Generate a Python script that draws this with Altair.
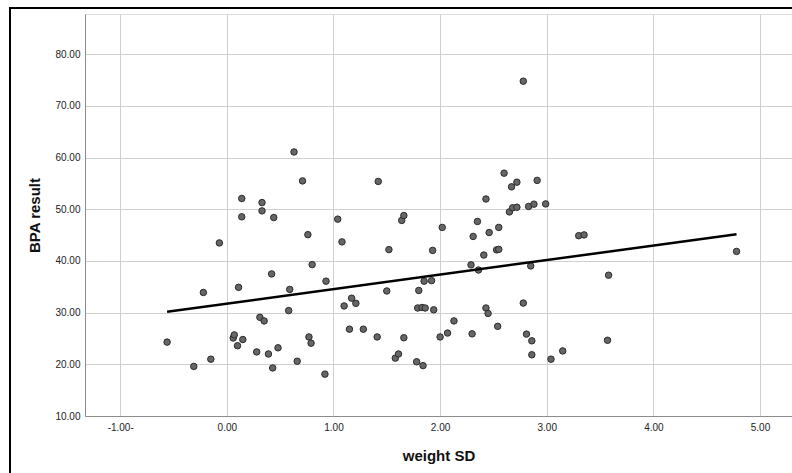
import altair as alt
import pandas as pd

weight_sd = [-0.56, -0.31, -0.22, -0.15, -0.07, 0.06, 0.07, 0.10, 0.11, 0.15,
             0.28, 0.31, 0.35, 0.39, 0.42, 0.43, 0.48, 0.58, 0.59, 0.66,
             0.76, 0.77, 0.79, 0.80, 0.92, 0.93, 1.08, 1.10, 1.15, 1.17,
             1.21, 1.28, 1.41, 1.50, 1.52, 1.58, 1.61, 0.14, 0.14, 0.33,
             0.33, 0.44, 0.63, 0.71, 1.04, 1.42, 1.64, 1.66, 2.78, 2.60,
             2.67, 2.72, 2.91, 2.43, 2.65, 2.68, 2.72, 2.83, 2.88, 2.99,
             2.02, 2.35, 2.31, 2.46, 2.55, 3.30, 3.35, 4.78, 1.93, 2.41,
             2.53, 2.55, 2.29, 2.36, 2.85, 1.85, 1.92, 1.80, 3.58, 1.79,
             1.83, 1.86, 1.94, 2.78, 2.43, 2.45, 2.13, 2.54, 1.66, 2.00,
             2.07, 2.30, 2.81, 2.86, 3.57, 1.78, 1.84, 2.86, 3.04, 3.15]
bpa_result = [24.3, 19.6, 33.9, 21.0, 43.5, 25.1, 25.7, 23.6, 34.9, 24.8,
              22.4, 29.1, 28.4, 22.0, 37.5, 19.3, 23.2, 30.4, 34.5, 20.6,
              45.1, 25.3, 24.1, 39.3, 18.1, 36.1, 43.7, 31.3, 26.8, 32.8,
              31.8, 26.8, 25.3, 34.2, 42.2, 21.2, 22.0, 52.1, 48.55, 51.3,
              49.7, 48.4, 61.1, 55.5, 48.1, 55.4, 47.85, 48.8, 74.8, 57.0,
              54.35, 55.25, 55.6, 52.0, 49.5, 50.3, 50.4, 50.55, 51.0, 51.05,
              46.5, 47.65, 44.75, 45.5, 46.5, 44.9, 45.05, 41.85, 42.05, 41.15,
              42.15, 42.25, 39.25, 38.25, 39.05, 36.1, 36.2, 34.3, 37.25, 30.9,
              31.0, 30.9, 30.55, 31.85, 30.9, 29.85, 28.4, 27.35, 25.15, 25.3,
              26.05, 25.9, 25.85, 24.55, 24.65, 20.5, 19.75, 21.85, 21.0, 22.6]

x_ticks = [-1, 0, 1, 2, 3, 4, 5]
x_tick_labels = ["-1.00-", "0.00", "1.00", "2.00", "3.00", "4.00", "5.00"]
y_ticks = [10, 20, 30, 40, 50, 60, 70, 80]

df = pd.DataFrame({"weight": weight_sd, "bpa": bpa_result})

label_expr = " : ".join(
    f"datum.value == {v} ? '{l}'" for v, l in zip(x_ticks, x_tick_labels)
) + " : format(datum.value, '.2f')"

FONT = "Liberation Sans"

xscale = alt.Scale(domain=[-1.33, 5.30], nice=False, zero=False)
yscale = alt.Scale(domain=[10, 87.8], nice=False, zero=False)

xaxis = alt.Axis(
    title="weight SD", values=x_ticks, labelExpr=label_expr,
    grid=True, gridColor="#cfcfcf", gridWidth=1,
    domainColor="#8c8c8c", domainWidth=1, ticks=False,
    labelFont=FONT, labelFontSize=10, labelColor="#222222", labelPadding=6,
    titleFont=FONT, titleFontSize=15, titleFontWeight="bold", titleColor="#111111",
    titleBaseline="middle", titleY=39,
)
yaxis = alt.Axis(
    title="BPA result", values=y_ticks, format=".2f",
    grid=True, gridColor="#cfcfcf", gridWidth=1,
    domainColor="#8c8c8c", domainWidth=1, ticks=False,
    labelFont=FONT, labelFontSize=10, labelColor="#222222", labelPadding=5,
    titleFont=FONT, titleFontSize=15, titleFontWeight="bold", titleColor="#111111",
    titleBaseline="middle", titleX=-51,
)

points = alt.Chart(df).mark_circle(
    size=42, color="#666666", opacity=1, stroke="#2b2b2b", strokeWidth=1
).encode(
    x=alt.X("weight:Q", scale=xscale, axis=xaxis),
    y=alt.Y("bpa:Q", scale=yscale, axis=yaxis),
)

fit = alt.Chart(df).transform_regression("weight", "bpa").mark_line(
    color="black", strokeWidth=2.5
).encode(
    x=alt.X("weight:Q", scale=xscale),
    y=alt.Y("bpa:Q", scale=yscale),
)

frame = alt.Chart(df).mark_rect(
    filled=False, stroke="black", strokeWidth=2, clip=False
).encode(
    x=alt.value(-75), y=alt.value(-6), x2=alt.value(760), y2=alt.value(480)
)

chart = alt.layer(points, fit, frame).properties(
    width=707, height=402,
    autosize=alt.AutoSizeParams(type="none"),
    padding={"left": 85, "top": 14, "right": 0, "bottom": 57},
).configure_view(stroke=None).configure(background="white")

chart.save("out.html", embed_options={"renderer": "svg", "actions": False})
